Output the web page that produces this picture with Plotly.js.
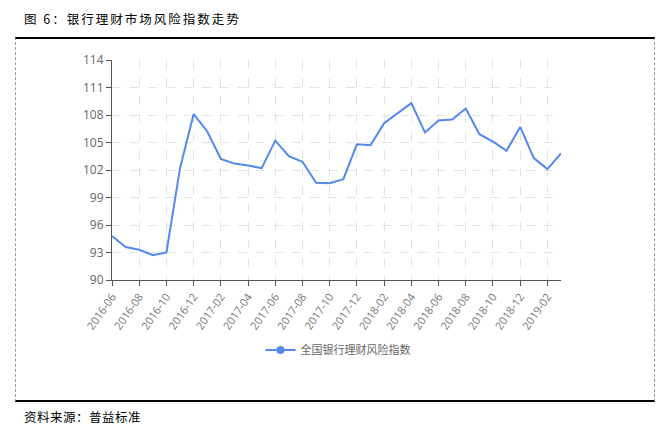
<!DOCTYPE html>
<html>
<head>
<meta charset="utf-8">
<script src="https://cdn.plot.ly/plotly-3.0.1.min.js"></script>
<style>
  html, body { margin: 0; padding: 0; background: #fff; }
  #wrap { position: relative; width: 668px; height: 434px; }
  #chart { position: absolute; left: 0; top: 0; width: 668px; height: 434px; }
  #frame { position: absolute; left: 15px; top: 37px; width: 638px; height: 361px;
           border-top: 2px solid #000; border-bottom: 2px solid #000;
           border-left: 1px dashed #999; border-right: 1px dashed #999; pointer-events: none; }
  .note { position: absolute; font-family: 'Noto Sans CJK SC', sans-serif; color: #000;
          font-size: 12.5px; line-height: 16px; white-space: nowrap; }
  #title { left: 24px; top: 11px; letter-spacing: 2px; }
  #source { left: 24px; top: 409px; letter-spacing: 0.5px; }
</style>
</head>
<body>
<div id="wrap">
  <div id="chart"></div>
  <div id="frame"></div>
  <div id="title" class="note"></div>
  <div id="source" class="note"></div>
</div>
<script>
const months = [
  "2016-06","2016-07","2016-08","2016-09","2016-10","2016-11","2016-12",
  "2017-01","2017-02","2017-03","2017-04","2017-05","2017-06","2017-07","2017-08","2017-09","2017-10","2017-11","2017-12",
  "2018-01","2018-02","2018-03","2018-04","2018-05","2018-06","2018-07","2018-08","2018-09","2018-10","2018-11","2018-12",
  "2019-01","2019-02","2019-03"
];
const riskIndex = [
  94.8, 93.6, 93.3, 92.7, 93.0, 102.2, 108.1,
  106.2, 103.2, 102.7, 102.5, 102.2, 105.2, 103.5, 102.9, 100.6, 100.55, 101.0, 104.8,
  104.7, 107.1, 108.2, 109.3, 106.1, 107.4, 107.5, 108.7, 105.9, 105.1, 104.1, 106.7,
  103.3, 102.1, 103.8
];
const tickLabels = months.filter((m, i) => i % 2 === 0);
const yTicks = [90, 93, 96, 99, 102, 105, 108, 111, 114];
const seriesName = "全国银行理财风险指数";
const chartTitle = "图 6：银行理财市场风险指数走势";
const sourceNote = "资料来源：普益标准";

document.getElementById("title").textContent = chartTitle;
document.getElementById("source").textContent = sourceNote;

const lineColor = "#5389ee";
const font = "'Noto Sans CJK SC', 'Open Sans', sans-serif";

const traces = [
  {
    x: months, y: riskIndex, type: "scatter", mode: "lines",
    line: { color: lineColor, width: 2 }, showlegend: false, hoverinfo: "x+y"
  },
  {
    x: [null], y: [null], type: "scatter", mode: "lines+markers", name: seriesName,
    line: { color: lineColor, width: 2 }, marker: { color: lineColor, size: 8 }
  }
];

const L = 112, R = 561, T = 60, B = 280;
const px = v => (v - L) / (R - L);
const py = v => (B - v) / (B - T);

const layout = {
  width: 668, height: 434,
  margin: { l: L, r: 668 - R, t: T, b: 434 - B },
  paper_bgcolor: "#fff", plot_bgcolor: "#fff",
  font: { family: font, color: "#666", size: 11 },
  xaxis: {
    type: "category", range: [0, months.length - 1],
    tickmode: "array", tickvals: tickLabels, ticktext: tickLabels,
    tickangle: -55, tickfont: { size: 11, color: "#777", family: "'Open Sans', sans-serif" },
    showgrid: true, gridcolor: "#e3e3e3", griddash: "dash", gridwidth: 1,
    showline: true, linecolor: "#555", linewidth: 1,
    ticks: "outside", ticklen: 5, tickcolor: "#555",
    zeroline: false, fixedrange: true
  },
  yaxis: {
    range: [90, 114], tickmode: "array", tickvals: yTicks,
    tickfont: { size: 12, color: "#666", family: "'Open Sans', sans-serif" },
    showgrid: true, gridcolor: "#e3e3e3", griddash: "dash", gridwidth: 1,
    showline: true, linecolor: "#555", linewidth: 1,
    ticks: "outside", ticklen: 5, tickcolor: "#555",
    zeroline: false, fixedrange: true
  },
  legend: {
    orientation: "h", x: px(338), xanchor: "center", y: py(350), yanchor: "middle",
    font: { size: 11, color: "#666", family: font }, bgcolor: "rgba(0,0,0,0)"
  }
};

Plotly.newPlot("chart", traces, layout, { displayModeBar: false, staticPlot: true });
</script>
</body>
</html>
